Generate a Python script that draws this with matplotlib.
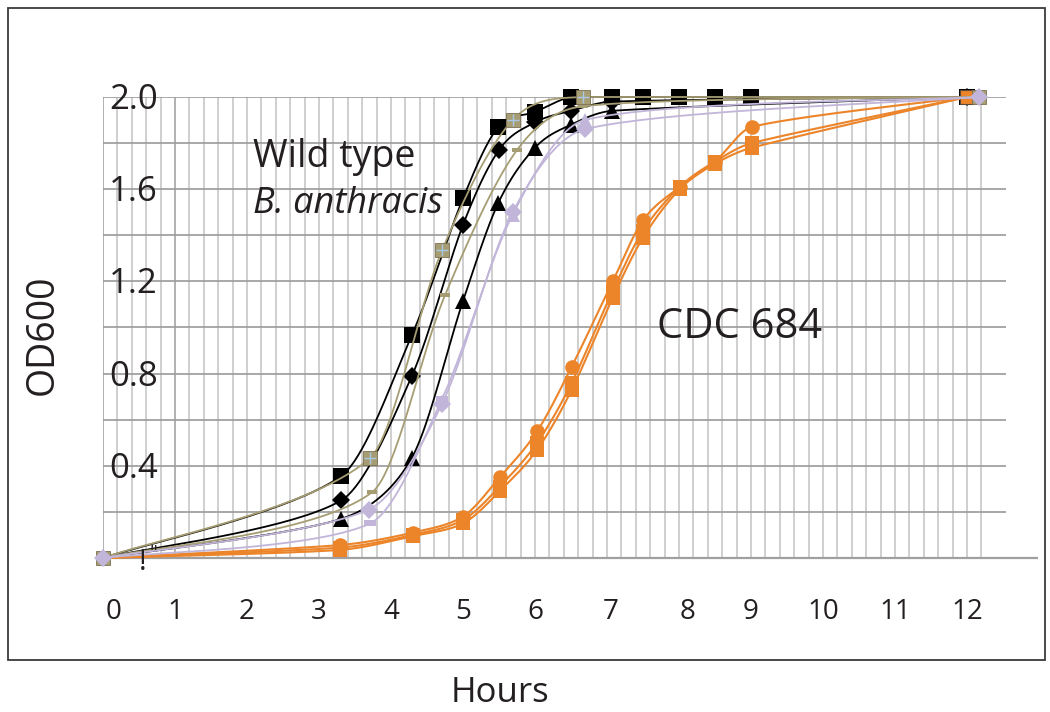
import numpy as np
import matplotlib
matplotlib.use("Agg")
import matplotlib.pyplot as plt
from matplotlib.patches import Rectangle

plt.rcParams['font.family'] = ['Open Sans', 'DejaVu Sans']

# ---------------- data ----------------
black_sq_t = [0, 3.31, 4.29, 5.0, 5.49, 6.0, 6.5, 7.07, 7.5, 8.0, 8.5, 9.0, 12.0]
black_sq_v = [0, 0.356, 0.967, 1.56, 1.87, 1.935, 2.0, 2.0, 2.0, 2.0, 2.0, 2.0, 2.0]

black_dia_t = [0, 3.31, 4.29, 5.0, 5.5, 6.0, 6.5, 7.07, 12.0]
black_dia_v = [0, 0.25, 0.79, 1.445, 1.77, 1.89, 1.94, 1.98, 2.0]

black_tri_t = [0, 3.31, 4.29, 5.0, 5.49, 6.0, 6.5, 7.07, 12.0]
black_tri_v = [0, 0.17, 0.435, 1.115, 1.54, 1.78, 1.88, 1.94, 2.0]

khaki_sq_t = [0, 3.71, 4.71, 5.69, 6.67, 12.17]
khaki_sq_v = [0, 0.434, 1.336, 1.90, 2.0, 2.0]

khaki_dash_t = [0, 3.74, 4.75, 5.75, 6.67, 12.17]
khaki_dash_v = [0, 0.286, 1.14, 1.77, 1.96, 2.0]

lav_dia_t = [0, 3.69, 4.71, 5.69, 6.69, 12.17]
lav_dia_v = [0, 0.21, 0.67, 1.50, 1.86, 2.0]

lav_b_t = [0, 3.71, 4.71, 5.69, 6.69, 12.17]
lav_b_v = [0, 0.15, 0.69, 1.49, 1.90, 2.0]

orange_t = [0, 3.29, 4.3, 5.0, 5.51, 6.03, 6.51, 7.08, 7.5, 8.01, 8.5, 9.01, 12.0]
orange_circ_v = [0, 0.056, 0.11, 0.18, 0.35, 0.55, 0.83, 1.20, 1.465, 1.61, 1.72, 1.87, 2.0]
orange_sq1_v = [0, 0.045, 0.10, 0.165, 0.31, 0.50, 0.76, 1.16, 1.42, 1.61, 1.72, 1.80, 2.0]
orange_sq2_v = [0, 0.035, 0.095, 0.15, 0.29, 0.47, 0.73, 1.13, 1.39, 1.60, 1.71, 1.78, 2.0]

x_tick_labels = ['0', '1', '2', '3', '4', '5', '6', '7', '8', '9', '10', '11', '12']
x_tick_pos = [0.14, 1, 2, 3, 4, 5, 6, 7.05, 8.12, 9, 10, 11, 12]
y_tick_labels = ['0.4', '0.8', '1.2', '1.6', '2.0']
y_tick_vals = [0.4, 0.8, 1.2, 1.6, 2.0]

# colours
BLACK = '#000000'
KHAKI = '#a69d73'
LAV = '#c1b5d9'
ORANGE = '#ec8429'
XBLUE = '#a9c8e6'


def _limit(T, p1, p2):
    """Shrink a tangent offset so the Bezier control stays inside the segment box."""
    w = abs(p2[0] - p1[0]) / 3.0
    dy = abs(p2[1] - p1[1])
    s = 1.0
    if abs(T[0]) > w and abs(T[0]) > 0:
        s = min(s, w / abs(T[0]))
    if abs(T[1]) > dy:
        s = min(s, dy / abs(T[1]) if abs(T[1]) > 0 else 1.0)
    return T * s


def smooth(xs, ys, n=40):
    """Excel-like smoothed line (Catmull-Rom Bezier) with loop/overshoot limiting."""
    P = np.column_stack([xs, ys]).astype(float)
    m = len(P)
    out = []
    for i in range(m - 1):
        p0 = P[i - 1] if i > 0 else P[i]
        p1 = P[i]
        p2 = P[i + 1]
        p3 = P[i + 2] if i + 2 < m else P[i + 1]
        c1 = p1 + _limit((p2 - p0) / 6.0, p1, p2)
        c2 = p2 - _limit((p3 - p1) / 6.0, p1, p2)
        t = np.linspace(0, 1, n)[:, None]
        seg = (1 - t) ** 3 * p1 + 3 * (1 - t) ** 2 * t * c1 + 3 * (1 - t) * t ** 2 * c2 + t ** 3 * p2
        out.append(seg if i == 0 else seg[1:])
    S = np.vstack(out)
    return S[:, 0], S[:, 1]


fig = plt.figure(figsize=(10.5, 7.12), dpi=100)
W, H = 1050, 712

# outer frame
fig.patches.append(Rectangle((8 / W, 1 - 660 / H), (1045 - 8) / W, (660 - 8) / H,
                             transform=fig.transFigure, fill=False,
                             edgecolor='#3a3a3a', lw=1.3, zorder=0))

ax = fig.add_axes([103 / W, 1 - 558 / H, 935 / W, (558 - 97) / H])
ax.set_xlim(0, 935 / 72)
ax.set_ylim(0, 2.0)
ax.axis('off')

# grid
vx = np.arange(0, 12.21, 0.2)
for v in vx:
    col = '#9c9c9c' if abs(v - 1) < 1e-6 or abs(v) < 1e-6 else '#c2c2c2'
    ax.plot([v, v], [0, 2.0], color=col, lw=1.1, zorder=1, solid_capstyle='butt')
for hh in np.arange(0.2, 2.01, 0.2):
    ax.plot([0, (1006 - 103) / 72], [hh, hh], color='#9a9a9a', lw=1.2, zorder=1,
            solid_capstyle='butt')
ax.plot([0, 935 / 72], [0, 0], color='#a0a0a0', lw=1.6, zorder=1, clip_on=False,
        solid_capstyle='butt')

LW = 1.3


def line(t, v, color, lw=LW, z=3):
    xs, ys = smooth(t, v)
    ax.plot(xs, ys, color=color, lw=lw, zorder=z, clip_on=False)


def marks(t, v, color, marker, ms, z=4, mec='none', mew=0.0):
    ax.plot(t, v, ls='none', marker=marker, ms=ms, color=color, mec=mec, mew=mew,
            zorder=z, clip_on=False)


DASH = [(-1, -0.45), (1, -0.45), (1, 0.45), (-1, 0.45), (-1, -0.45)]

# black series
line(black_sq_t, black_sq_v, BLACK)
line(black_dia_t, black_dia_v, BLACK)
line(black_tri_t, black_tri_v, BLACK)
marks(black_tri_t[1:], black_tri_v[1:], BLACK, '^', 12)
marks(black_dia_t[1:], black_dia_v[1:], BLACK, 'D', 9)
marks(black_sq_t[1:], black_sq_v[1:], BLACK, 's', 11.5)

# orange series
line(orange_t, orange_sq2_v, ORANGE, lw=1.5, z=5)
line(orange_t, orange_sq1_v, ORANGE, lw=1.5, z=5)
line(orange_t, orange_circ_v, ORANGE, lw=1.5, z=5)
marks(orange_t[1:], orange_circ_v[1:], ORANGE, 'o', 10.5, z=6)
marks(orange_t[1:-1], orange_sq1_v[1:-1], ORANGE, 's', 10, z=6)
marks(orange_t[1:-1], orange_sq2_v[1:-1], ORANGE, 's', 10, z=6)
marks(orange_t[-1:], orange_sq1_v[-1:], ORANGE, 's', 10.5, z=6, mec='#5a4a3a', mew=0.8)

# khaki series
line(khaki_dash_t, khaki_dash_v, KHAKI, z=7)
line(khaki_sq_t, khaki_sq_v, KHAKI, z=7)
marks(khaki_dash_t[1:-1], khaki_dash_v[1:-1], KHAKI, DASH, 7, z=8)
marks(khaki_sq_t, khaki_sq_v, KHAKI, 's', 10.5, z=8, mec='#7c7052', mew=0.6)
marks(khaki_sq_t[1:-1], khaki_sq_v[1:-1], XBLUE, '+', 8, z=9, mec=XBLUE, mew=1.0)

# lavender series
line(lav_b_t, lav_b_v, LAV, z=10)
line(lav_dia_t, lav_dia_v, LAV, z=10)
marks(lav_b_t[1:3], lav_b_v[1:3], LAV, DASH, 9, z=11)
marks(lav_b_t[3:5], lav_b_v[3:5], LAV, '^', 10.5, z=11)
marks(lav_dia_t, lav_dia_v, LAV, 'D', 9, z=12)

# tick labels
for lab, val in zip(y_tick_labels, y_tick_vals):
    ax.text(0.76, val - 0.013, lab, ha='right', va='center', fontsize=25,
            color='#231f20', zorder=20)
for lab, pos in zip(x_tick_labels, x_tick_pos):
    ax.text(pos, -(612 - 558) / 230.5, lab, ha='center', va='center', fontsize=20,
            color='#231f20', clip_on=False)

# stray glyphs
ax.text(0.55, -(562 - 558) / 230.5, '!', ha='center', va='center', fontsize=21,
        color='#231f20', clip_on=False, zorder=20)
ax.text(0.70, (558 - 553) / 230.5, '"', ha='center', va='center', fontsize=14,
        color='#231f20', clip_on=False, zorder=20)

# annotations
ax.text(2.08, (558 - 167) / 230.5, 'Wild type', ha='left', va='baseline', fontsize=27,
        color='#231f20', zorder=20)
ax.text(2.08, (558 - 213) / 230.5, 'B. anthracis', ha='left', va='baseline', fontsize=26,
        style='italic', color='#231f20', zorder=20)
ax.text(7.69, (558 - 338) / 230.5, 'CDC 684', ha='left', va='baseline', fontsize=30,
        color='#231f20', zorder=20)

fig.text(43 / W, 1 - 335 / H, 'OD600', rotation=90, ha='center', va='center',
         fontsize=27, color='#231f20')
fig.text(500 / W, 1 - 693 / H, 'Hours', ha='center', va='center', fontsize=25,
         color='#231f20')

fig.savefig('out.png', dpi=100)
